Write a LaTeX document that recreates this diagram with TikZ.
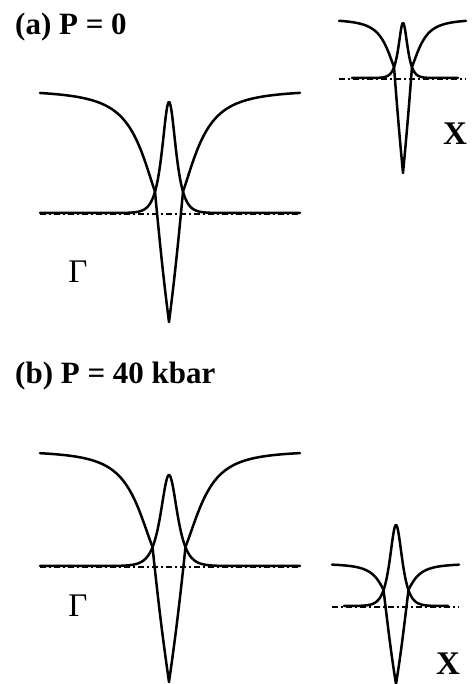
\documentclass[tikz,border=0pt]{standalone}
\usepackage{fontspec}
\setmainfont{Liberation Serif}
\newcommand\drawband{%
 \pgfmathtruncatemacro\nV{2*(\pR-\pL)+1}%
 \pgfmathtruncatemacro\nL{2*(\pLe-\pLs)+1}%
 \draw[axisline] (\pL,\pBase+0.8) -- (\pR,\pBase+0.8);%
 \draw[curve] plot[domain=\pLs:\pLe,samples=\nL] (\x,{\pBase-(\pBase-\pPeak)/cosh(min(abs(\x-\pC)/\pS,9))});%
 \draw[curve] plot[domain=\pL:\pR,samples=\nV] (\x,{\pTop+(\pBase-\pTop)/(1+pow((abs(\x-\pC)+0.001)/\pA,\pN))+(\pBot-\pBase)*max(0,1-abs(\x-\pC)/\pW)});%
}
\begin{document}
\begin{tikzpicture}[x=1pt,y=-1pt,
  curve/.style={line width=2.5pt,line join=round,line cap=round},
  axisline/.style={line width=1.7pt,dash pattern=on 6pt off 3pt on 2pt off 3pt},
  title/.style={font=\fontsize{31}{36}\selectfont\bfseries,anchor=base west,inner sep=0pt},
  gam/.style={font=\fontsize{33}{38}\selectfont,inner sep=0pt},
  xlab/.style={font=\fontsize{33}{38}\selectfont\bfseries,inner sep=0pt}]
\useasboundingbox (0,0) rectangle (471,684);
% (a) Gamma
\begin{scope}
\def\pL{40}\def\pR{300}\def\pC{169}\def\pTop{89.5}\def\pBase{213}\def\pBot{322}\def\pPeak{102}
\def\pA{27.7}\def\pN{2.3}\def\pW{14}\def\pS{6}\def\pLs{40}\def\pLe{300}
\drawband
\end{scope}
% (a) X
\begin{scope}
\def\pL{339}\def\pR{466}\def\pC{403}\def\pTop{19}\def\pBase{78}\def\pBot{173}\def\pPeak{23}
\def\pA{16.1}\def\pN{2.5}\def\pW{9}\def\pS{3.9}\def\pLs{352}\def\pLe{458}
\drawband
\end{scope}
% (b) Gamma
\begin{scope}
\def\pL{40}\def\pR{300}\def\pC{169}\def\pTop{450.5}\def\pBase{566}\def\pBot{682}\def\pPeak{475}
\def\pA{30.7}\def\pN{2.6}\def\pW{16.5}\def\pS{7.3}\def\pLs{40}\def\pLe{300}
\drawband
\end{scope}
% (b) X
\begin{scope}
\def\pL{332}\def\pR{459}\def\pC{396}\def\pTop{563.5}\def\pBase{606}\def\pBot{684}\def\pPeak{525}
\def\pA{15.2}\def\pN{2.5}\def\pW{12.5}\def\pS{5.4}\def\pLs{344}\def\pLe{448}
\drawband
\end{scope}
\node[title] (ta) at (15,35) {(a) P = 0};
\node[title] (tb) at (15,383) {(b) P = 40 kbar};
\node[gam] (ga) at (78,272) {Γ};
\node[gam] (gb) at (78,606) {Γ};
\node[xlab] (xa) at (455,134) {X};
\node[xlab] (xb) at (448,664) {X};
\end{tikzpicture}
\end{document}
